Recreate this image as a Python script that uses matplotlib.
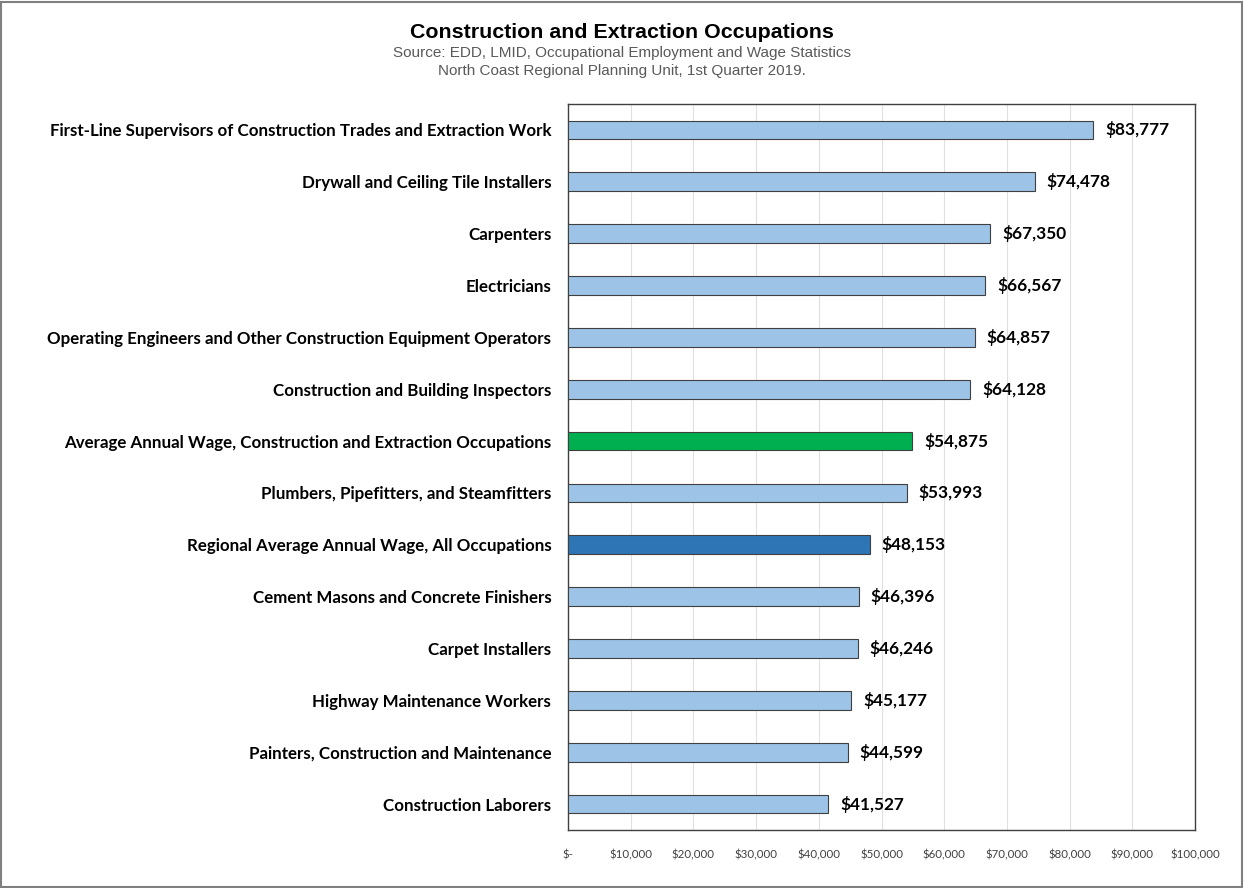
import matplotlib
matplotlib.use('Agg')
from matplotlib import pyplot as plt
from matplotlib.patches import Rectangle
from matplotlib.ticker import FuncFormatter

occupations = [
    "First-Line Supervisors of Construction Trades and Extraction Work",
    "Drywall and Ceiling Tile Installers",
    "Carpenters",
    "Electricians",
    "Operating Engineers and Other Construction Equipment Operators",
    "Construction and Building Inspectors",
    "Average Annual Wage, Construction and Extraction Occupations",
    "Plumbers, Pipefitters, and Steamfitters",
    "Regional Average Annual Wage, All Occupations",
    "Cement Masons and Concrete Finishers",
    "Carpet Installers",
    "Highway Maintenance Workers",
    "Painters, Construction and Maintenance",
    "Construction Laborers",
]
wages = [83777, 74478, 67350, 66567, 64857, 64128, 54875,
         53993, 48153, 46396, 46246, 45177, 44599, 41527]
bar_colors = ['#9DC3E6'] * len(wages)
bar_colors[6] = '#00B050'
bar_colors[8] = '#2E75B6'

body_font = ['Lato', 'DejaVu Sans']

fig = plt.figure(figsize=(12.44, 8.88), dpi=100)
ax = fig.add_axes([568 / 1244, 1 - 830 / 888, 627 / 1244, 726 / 888])

y = list(range(len(wages)))
ax.barh(y, wages, height=0.36, color=bar_colors, edgecolor='#404040', linewidth=0.8, zorder=3)
ax.set_ylim(len(wages) - 0.5, -0.5)
ax.set_xlim(0, 100000)
ax.set_yticks(y)
ax.set_yticklabels(occupations, fontsize=12.2, fontweight='bold', family=body_font)
ax.set_xticks(range(0, 100001, 10000))
ax.xaxis.set_major_formatter(FuncFormatter(lambda v, p: '$-' if v == 0 else '${:,.0f}'.format(v)))
for lbl in ax.get_xticklabels():
    lbl.set_family(body_font)
    lbl.set_fontsize(8.3)
    lbl.set_color('#404040')
ax.tick_params(axis='both', length=0)
ax.tick_params(axis='x', pad=14)
ax.tick_params(axis='y', pad=12)
ax.grid(axis='x', color='#E0E0E0', linewidth=0.8, zorder=0)
for s in ax.spines.values():
    s.set_color('#404040')
    s.set_linewidth(1)

for yi, w in zip(y, wages):
    ax.text(w + 1900, yi, '${:,}'.format(w), va='center', ha='left',
            fontsize=12.4, fontweight='bold', family=body_font)

fig.text(0.5, 1 - 32 / 888, 'Construction and Extraction Occupations', ha='center', va='center',
         fontsize=15.4, fontweight='bold', family='Liberation Sans')
fig.text(0.5, 1 - 53 / 888, 'Source: EDD, LMID, Occupational Employment and Wage Statistics',
         ha='center', va='center', fontsize=11, color='#595959', family='Liberation Sans')
fig.text(0.5, 1 - 71 / 888, 'North Coast Regional Planning Unit, 1st Quarter 2019.',
         ha='center', va='center', fontsize=11, color='#595959', family='Liberation Sans')

fig.patches.append(Rectangle((0.001, 0.001), 0.997, 0.997, transform=fig.transFigure,
                             fill=False, edgecolor='#808080', linewidth=1.5))

plt.savefig('out.png', dpi=100)
plt.close()
